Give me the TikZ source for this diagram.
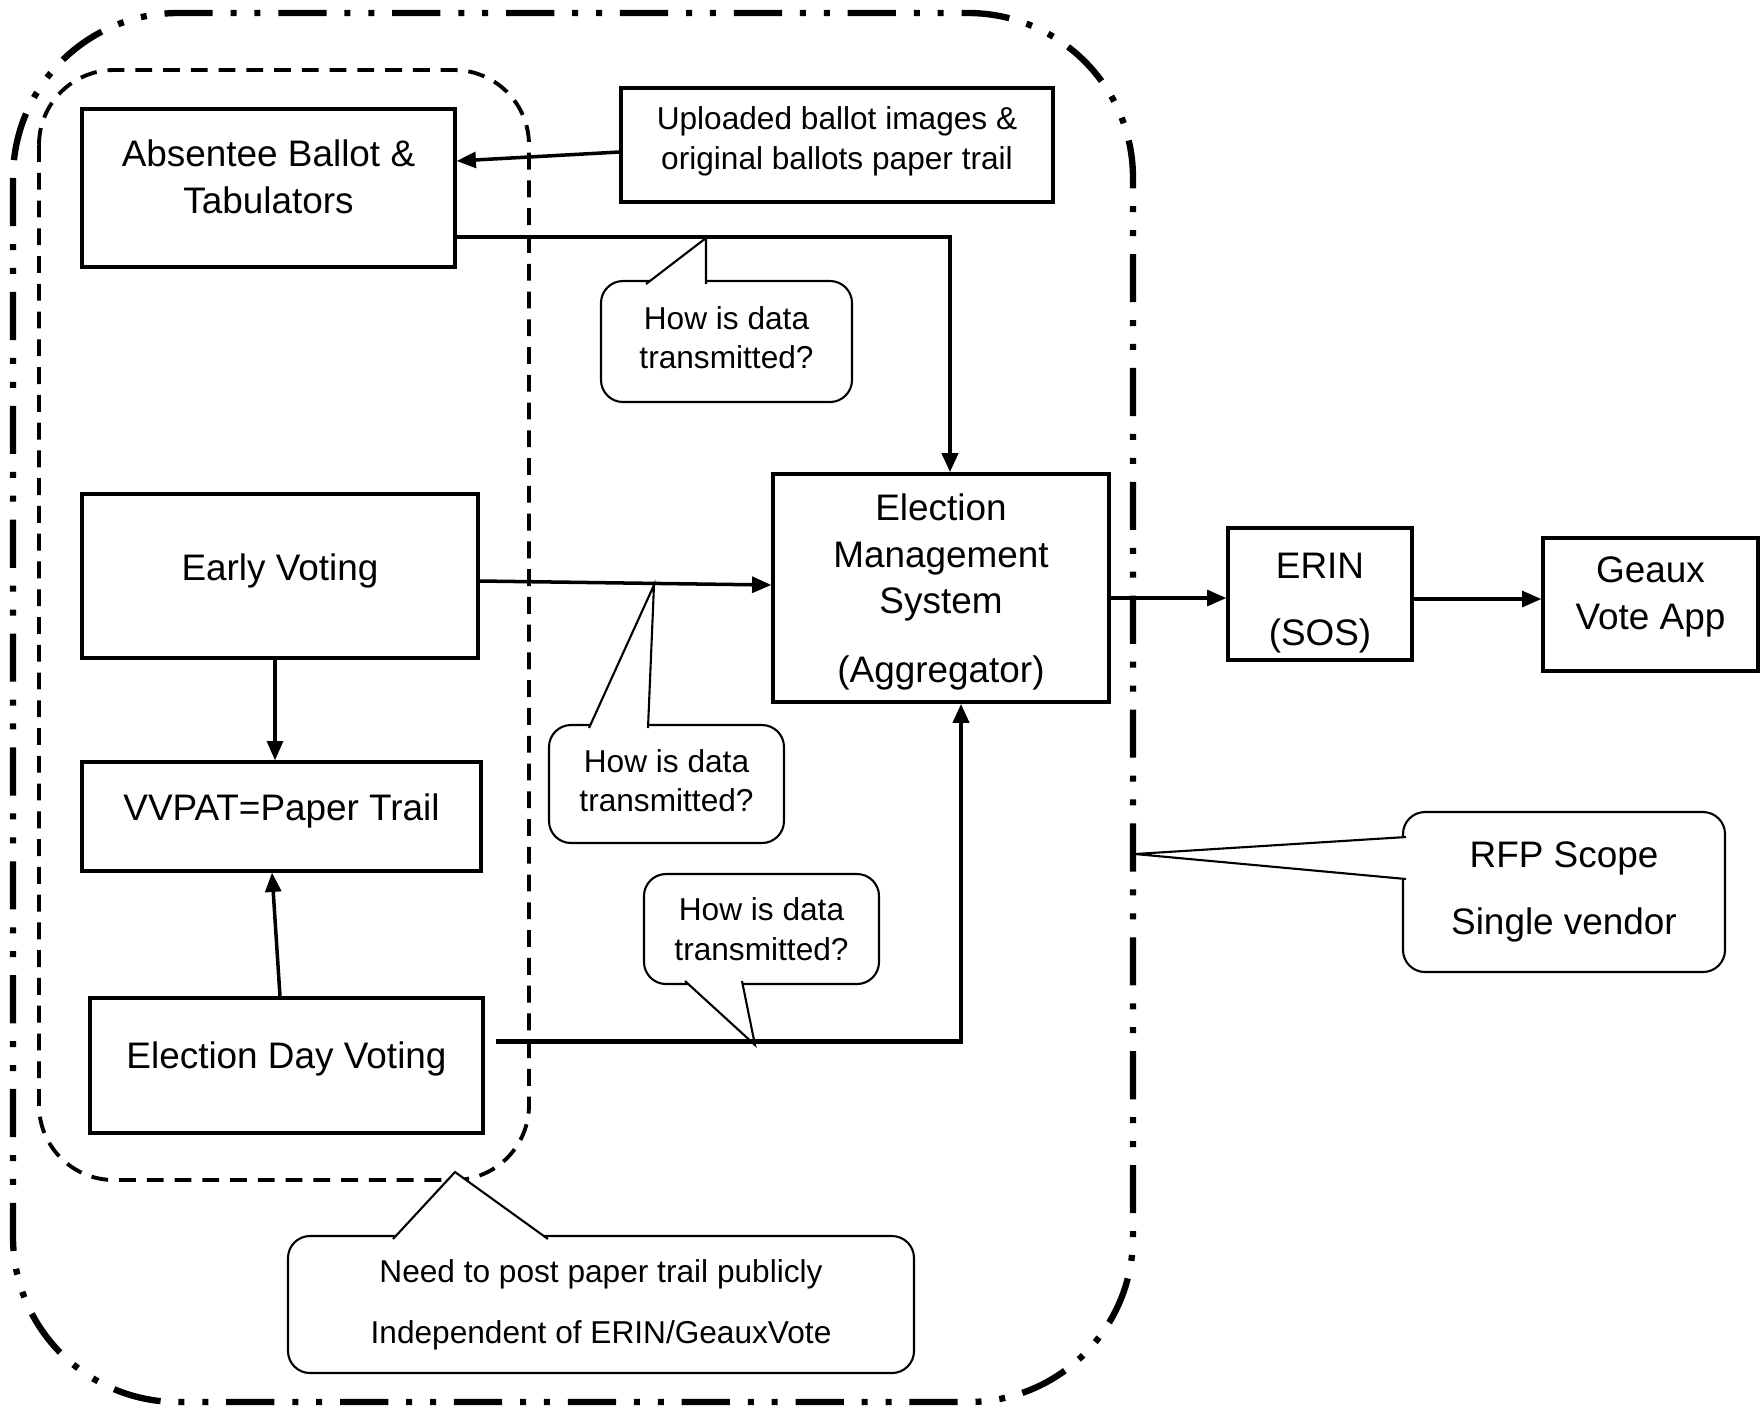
\documentclass[tikz,border=0pt]{standalone}
\usepackage{fontspec}
\setmainfont{Liberation Sans}
\usetikzlibrary{arrows.meta, calc}

\begin{document}
\begin{tikzpicture}[x=0.1mm, y=-0.1mm,
  box/.style={draw, line width=0.9pt, align=center, font=\fontsize{10.5}{13.2}\selectfont, inner sep=2pt},
  note/.style={draw, line width=0.6pt, fill=white, rounded corners=2.2mm, align=center, font=\fontsize{9}{11.2}\selectfont},
  tail/.style={draw, line width=0.6pt, fill=white},
  arr/.style={-{Triangle[length=5.5pt, width=4.5pt]}, line width=1pt},
  feed/.style={-{Triangle[length=5.5pt, width=4.5pt]}, line width=1.3pt},
  rfpzone/.style={line width=1.8pt, rounded corners=16.5mm, dash pattern=on 13.7pt off 5.1pt on 1.7pt off 5.1pt on 1.7pt off 5.1pt},
  parishzone/.style={line width=1.1pt, rounded corners=7.5mm, dash pattern=on 4.8pt off 3.1pt},
]
  \useasboundingbox (0,0) rectangle (1762,1409);

  % Scope boundaries
  \draw[rfpzone] (13,13) rectangle (1133,1402);
  \draw[parishzone] (39,70) rectangle (529,1180);

  % Voting sources
  \node[box, text depth=6.4pt, minimum width=37.3mm, minimum height=15.8mm] (absentee) at (268.5,188) {Absentee Ballot \&\\Tabulators};
  \node[box, font=\fontsize{9}{11.2}\selectfont, text depth=3.9pt, minimum width=43.2mm, minimum height=11.4mm] (uploaded) at (837,145) {Uploaded ballot images \&\\original ballots paper trail};
  \node[box, text depth=5.3pt, minimum width=39.6mm, minimum height=16.4mm] (early) at (280,576) {Early Voting};
  \node[box, text depth=5.4pt, minimum width=39.9mm, minimum height=10.9mm] (vvpat) at (281.5,816.5) {VVPAT=Paper Trail};
  \node[box, text depth=6pt, minimum width=39.3mm, minimum height=13.5mm] (eday) at (286.5,1065.5) {Election Day Voting};

  % Aggregation and publishing
  \node[box, minimum width=33.6mm, minimum height=22.8mm] (ems) at (941,588) {\rule{0pt}{9.9pt}Election\\Management\\System\\[6.3pt](Aggregator)};
  \node[box, minimum width=18.4mm, minimum height=12.8mm] (erin) at (1320,594) {\rule{0pt}{12.5pt}ERIN\\[5.7pt](SOS)};
  \node[box, text depth=6.6pt, minimum width=21.5mm, minimum height=13.3mm] (geaux) at (1650.5,604.5) {Geaux\\Vote App};

  % Questions
  \node[note, text depth=2.3pt, minimum width=25.1mm, minimum height=12.1mm] (ask1) at (726.5,341.5) {How is data\\transmitted?};
  \filldraw[tail] (646,284) -- (706,238) -- (706,284);
  \node[note, text depth=2pt, minimum width=23.5mm, minimum height=11.8mm] (ask2) at (666.5,784) {How is data\\transmitted?};
  \filldraw[tail] (589,728) -- (654,585) -- (648,728);
  \node[note, minimum width=23.5mm, minimum height=11mm] (ask3) at (761.5,929) {How is data\\transmitted?};
  \filldraw[tail] (685,981) -- (755,1045) -- (742,981);

  \node[note, font=\fontsize{10.5}{13.2}\selectfont, minimum width=32.2mm, minimum height=16mm] (rfp) at (1564,892) {RFP Scope\\[6pt]Single vendor};
  \filldraw[tail] (1406,837) -- (1135,854) -- (1406,879);
  \node[note, minimum width=62.6mm, minimum height=13.7mm] (paper) at (601,1304.5) {Need to post paper trail publicly\\[6.1pt]Independent of ERIN/GeauxVote};
  \filldraw[tail] (393,1239) -- (455,1172) -- (548,1239);

  % Data flow
  \draw[arr] ($(uploaded.west)+(0,7)$) -- ($(absentee.east)+(0,-27)$);
  \draw[feed] ($(absentee.east)+(0,49)$) -| ($(ems.north)+(9,0)$);
  \draw[arr] ($(early.east)+(0,5)$) -- ($(ems.west)+(0,-3)$);
  \draw[arr] ($(early.south)+(-5,0)$) -- ($(vvpat.north)+(-6.5,0)$);
  \draw[arr] ($(eday.north)+(-6.5,0)$) -- ($(vvpat.south)+(-9.5,0)$);
  \draw[feed] ($(eday.east)+(11,-24)$) -| ($(ems.south)+(20,0)$);
  \draw[arr] (ems.east |- {$(erin.west)+(0,4)$}) -- ($(erin.west)+(0,4)$);
  \draw[arr] ($(erin.east)+(0,5)$) -- ($(erin.east -| geaux.west)+(0,5)$);
\end{tikzpicture}
\end{document}
